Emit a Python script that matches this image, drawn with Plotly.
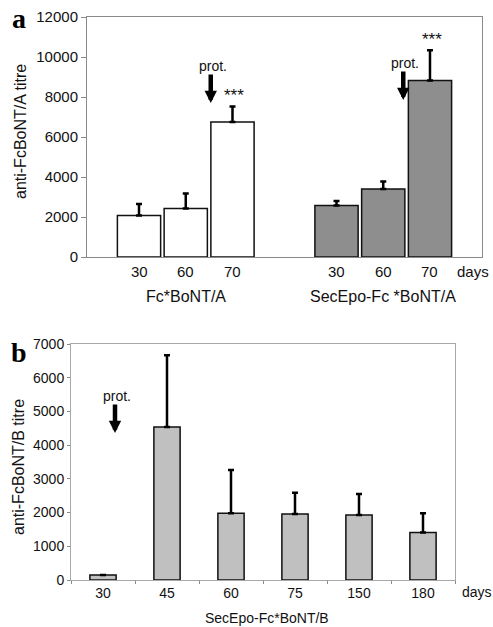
import plotly.graph_objects as go

# ---------------- data ----------------
groups_a = ["Fc*BoNT/A", "SecEpo-Fc *BoNT/A"]
days_a = ["30", "60", "70"]
titre_a_30 = [2070, 2580]
titre_a_60 = [2430, 3400]
titre_a_70 = [6750, 8820]
sd_a_30 = [580, 220]
sd_a_60 = [750, 370]
sd_a_70 = [770, 1520]

days_b = ["30", "45", "60", "75", "150", "180"]
titre_b = [150, 4540, 1980, 1960, 1930, 1410]
sd_b = [0, 2130, 1280, 630, 620, 570]

W, H = 493, 627
FONT = "Liberation Sans, Arial, sans-serif"
group_colors = ["#ffffff", "#8e8e8e"]

xa_dom = [87 / W, 482 / W]
ya_dom = [1 - 257 / H, 1 - 17 / H]
xb_dom = [71 / W, 455 / W]
yb_dom = [1 - 580 / H, 1 - 344 / H]
BARGAP = 0.29
GROUPGAP = 0.075

fig = go.Figure()
for d, vals, sds in zip(days_a, [titre_a_30, titre_a_60, titre_a_70],
                         [sd_a_30, sd_a_60, sd_a_70]):
    fig.add_trace(go.Bar(
        x=groups_a, y=vals, name=d, xaxis="x", yaxis="y",
        marker=dict(color=group_colors, line=dict(color="#111", width=1.5)),
        error_y=dict(type="data", symmetric=False, array=sds,
                     arrayminus=[0] * len(sds), color="#000",
                     thickness=2.5, width=3),
        showlegend=False))

fig.add_trace(go.Bar(
    x=days_b, y=titre_b, xaxis="x2", yaxis="y2", width=0.41,
    marker=dict(color="#c0c0c0", line=dict(color="#111", width=1.5)),
    error_y=dict(type="data", symmetric=False, array=sd_b,
                 arrayminus=[0] * len(sd_b), color="#000",
                 thickness=2.5, width=3),
    showlegend=False))

axis_common = dict(showline=True, mirror=True, linecolor="#8a8a8a",
                   linewidth=1, showgrid=False, zeroline=False,
                   automargin=False,
                   tickfont=dict(family=FONT, size=15, color="#111"))
axis_b = {**axis_common, "tickfont": dict(family=FONT, size=14, color="#111"),
          "linecolor": "#a8a8a8"}

fig.update_layout(
    template="none",
    width=W, height=H, margin=dict(l=0, r=0, t=0, b=0, autoexpand=False),
    paper_bgcolor="white", plot_bgcolor="white", showlegend=False,
    barmode="group", bargap=BARGAP, bargroupgap=GROUPGAP,
    font=dict(family=FONT, color="#111"),
    xaxis=dict(domain=xa_dom, anchor="y", type="category",
               range=[-0.5, len(groups_a) - 0.5], showticklabels=False,
               ticks="", **axis_common),
    yaxis=dict(domain=ya_dom, anchor="x", range=[0, 12000], dtick=2000,
               tickformat="d", ticks="outside", ticklen=5,
               tickcolor="#8a8a8a", **axis_common),
    xaxis2=dict(domain=xb_dom, anchor="y2", type="category",
                range=[-0.5, len(days_b) - 0.5], tickangle=0,
                ticks="outside", ticklen=3, tickcolor="#8a8a8a",
                tickson="boundaries", **axis_b),
    yaxis2=dict(domain=yb_dom, anchor="x2", range=[0, 7000], dtick=1000,
                tickformat="d", ticks="outside", ticklen=3,
                tickcolor="#8a8a8a", **axis_b),
)

C = dict(xanchor="center", yanchor="middle", showarrow=False)
ann = []
# day labels under panel a bars
cat_px = (xa_dom[1] - xa_dom[0]) * W / len(groups_a)
slot_px = cat_px * (1 - BARGAP) / len(days_a)
for gi, g in enumerate(groups_a):
    for k, d in enumerate(days_a):
        ann.append(dict(x=gi, y=0, xref="x", yref="y", text=d,
                        xshift=(k - 1) * slot_px, yshift=-14,
                        font=dict(family=FONT, size=15), **C))
    ann.append(dict(x=gi, y=0, xref="x", yref="y", text=g,
                    yshift=-39, font=dict(family=FONT, size=16), **C))
ann.append(dict(x=473 / W, y=0, xref="paper", yref="y", text="days",
                yshift=-14, font=dict(family=FONT, size=15), **C))
ann.append(dict(x=477 / W, y=0, xref="paper", yref="y2", text="days",
                yshift=-12, font=dict(family=FONT, size=14), **C))
ann.append(dict(x=267 / W, y=0, xref="paper",
                yref="y2", text="SecEpo-Fc*BoNT/B",
                yshift=-38, font=dict(family=FONT, size=14), **C))

# y titles
ann.append(dict(x=20 / W, y=1 - 132 / H, xref="paper",
                yref="paper", text="anti-FcBoNT/A titre", textangle=-90,
                font=dict(family=FONT, size=16), **C))
ann.append(dict(x=18 / W, y=1 - 467 / H, xref="paper",
                yref="paper", text="anti-FcBoNT/B titre", textangle=-90,
                font=dict(family=FONT, size=16), **C))

# panel letters
ann.append(dict(x=19 / W, y=1 - 19 / H, xref="paper", yref="paper", text="<b>a</b>",
                font=dict(family="Liberation Serif, serif", size=28, color="#000"), **C))
ann.append(dict(x=19 / W, y=1 - 352 / H, xref="paper", yref="paper", text="<b>b</b>",
                font=dict(family="Liberation Serif, serif", size=28, color="#000"), **C))

# protocol arrows and labels (x given as category index)
arrows = [("x", "y", 0, 7700, 25), ("x", "y", 1, 7850, 20),
          ("x2", "y2", 0, 4360, 12)]
for xr, yr, xc, yv, xs in arrows:
    ann.append(dict(x=xc, y=yv, xref=xr, yref=yr, text="", showarrow=True,
                    ax=0, ay=-30, xshift=xs, arrowhead=2, arrowsize=0.55,
                    arrowwidth=4.5, arrowcolor="#000"))
    ann.append(dict(x=xc, y=yv, xref=xr, yref=yr, text="prot.",
                    xshift=xs + 2, yshift=37, font=dict(family=FONT, size=14), **C))

# significance stars
for gi in range(len(groups_a)):
    ann.append(dict(x=gi, y=titre_a_70[gi] + sd_a_70[gi], xref="x", yref="y",
                    text="***", xshift=slot_px + 2, yshift=11,
                    font=dict(family=FONT, size=17), **C))

fig.update_layout(annotations=ann)
fig.write_html("out.html",
               config={"displayModeBar": False},
               post_script="document.body.style.margin='0px';"
                           "document.body.style.overflow='hidden';")
